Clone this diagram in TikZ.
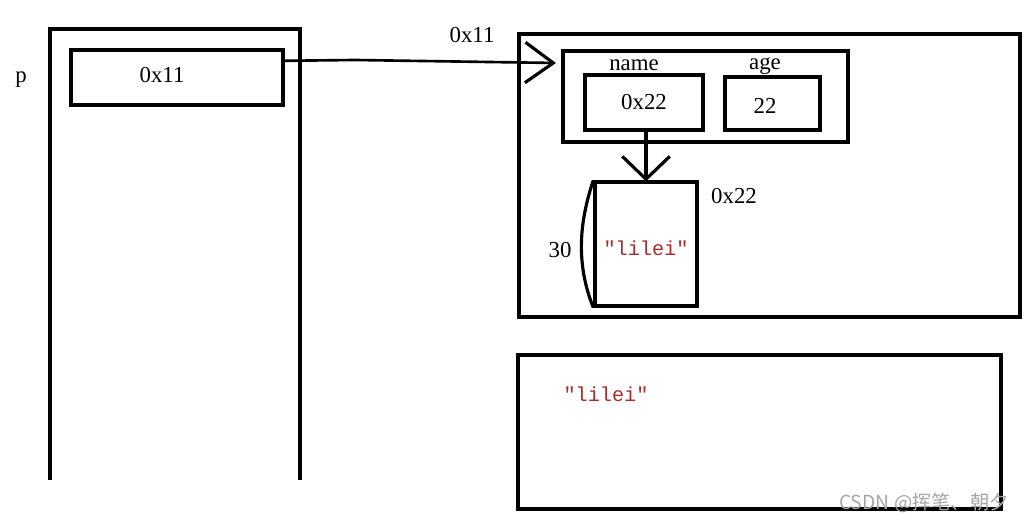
\documentclass[tikz,border=0pt]{standalone}
\usepackage{fontspec}
\setmainfont{Liberation Serif}
\newfontfamily\codefont{Liberation Mono}
\newfontfamily\cjk{Noto Sans CJK SC}
\usetikzlibrary{arrows.meta}
\definecolor{strred}{RGB}{165,45,45}

\begin{document}
\begin{tikzpicture}[x=0.02cm, y=-0.02cm,
  box/.style={draw, line width=1.9pt, inner sep=0pt},
  txt/.style={font=\fontsize{13}{15}\selectfont},
  strtxt/.style={font=\codefont\fontsize{11.5}{13}\selectfont, text=strred},
  ptrarrow/.style={line width=1.5pt, -{Straight Barb[length=16pt, width=23pt, line width=1.8pt]}}]
\useasboundingbox (0,0) rectangle (1025,523);

% Left
% Stack with pointer p
  \draw[line width=2pt] (50,480) -- (50,29) -- (300,29) -- (300,480);
  \node[box, minimum width=4.24cm, minimum height=1.1cm] (ptr) at (177,77.5) {};
  \node[txt] (ptrval) at (162,75) {0x11};
  \node[txt] (pname) at (21,80) {p};

% Upper Right
% Heap with struct and string
  \node[box, minimum width=10.02cm, minimum height=5.66cm] (heap) at (769.5,175.5) {};
  \node[box, minimum width=5.7cm, minimum height=1.82cm] (struct) at (705.5,96.5) {};
  \node[box, minimum width=2.36cm, minimum height=1.1cm, txt] (namebox) at (644,102.5) {0x22};
  \node[box, minimum width=1.9cm, minimum height=1.06cm] (agebox) at (772.5,103.5) {};
  \node[txt] (ageval) at (765,106) {22};
  \node[txt] (namelbl) at (634,65) {name};
  \node[txt] (agelbl) at (765,66) {age};
  \node[box, minimum width=2.04cm, minimum height=2.48cm] (strbox) at (646,244) {};
  \node[strtxt] (strval) at (646,248) {"lilei"};
  \node[txt] (straddr) at (734,196) {0x22};
  \node[txt] (heapaddr) at (472,35) {0x11};
  \node[txt] (strlen) at (560,250) {30};

% Connectors
  \coordinate (tip) at (556,63);
  \draw[ptrarrow] ([yshift=9.5pt]ptr.east) -- (355,60) -- (tip);
  \draw[ptrarrow, line width=2pt, -{Straight Barb[length=13pt, width=27pt, line width=1.8pt]}] (namebox.south -| strbox.north) -- ([yshift=-0.6pt]strbox.north);
  \draw[line width=1.8pt] (strbox.north west) .. controls (580,220) and (575,262) .. (strbox.south west);

% Lower Right
% Constant area
  \node[box, minimum width=9.66cm, minimum height=3.08cm] (const) at (759.5,432) {};
  \node[strtxt] (constval) at (606,394) {"lilei"};

  \node[font=\cjk\fontsize{11}{13}\selectfont, text=black!35] (mark) at (924,503) {CSDN @挥笔、朝夕};
\end{tikzpicture}
\end{document}
